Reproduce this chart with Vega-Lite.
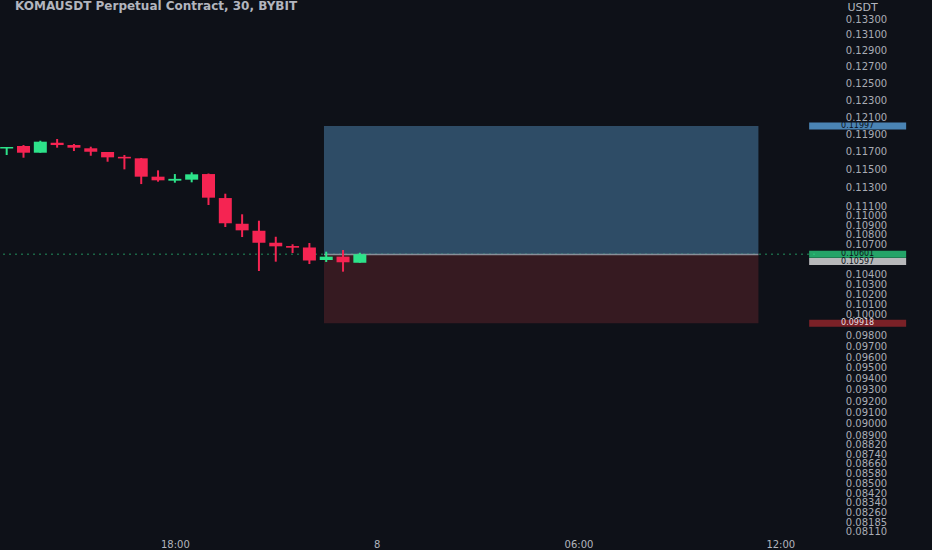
{
  "$schema": "https://vega.github.io/schema/vega-lite/v6.json",
  "width": 815,
  "height": 538,
  "autosize": {"type": "none"},
  "padding": {"left": 0, "top": 0, "right": 117, "bottom": 12},
  "background": "#0e1118",
  "config": {"view": {"stroke": null}, "font": "DejaVu Sans"},
  "title": {"text": "KOMAUSDT Perpetual Contract, 30, BYBIT", "anchor": "start", "frame": "group", "offset": -13, "dx": 15, "fontSize": 12, "fontWeight": "bold", "color": "#b2b5be", "font": "DejaVu Sans"},
  "datasets": {
    "candles": [
      {"t": "2024-12-07T13:00:00Z", "o": 0.11739, "h": 0.11756, "l": 0.11665, "c": 0.11756},
      {"t": "2024-12-07T13:30:00Z", "o": 0.11767, "h": 0.11778, "l": 0.11635, "c": 0.11691},
      {"t": "2024-12-07T14:00:00Z", "o": 0.11691, "h": 0.11827, "l": 0.11691, "c": 0.11816},
      {"t": "2024-12-07T14:30:00Z", "o": 0.11804, "h": 0.11847, "l": 0.11748, "c": 0.11778},
      {"t": "2024-12-07T15:00:00Z", "o": 0.11778, "h": 0.11790, "l": 0.11710, "c": 0.11748},
      {"t": "2024-12-07T15:30:00Z", "o": 0.11741, "h": 0.11759, "l": 0.11657, "c": 0.11702},
      {"t": "2024-12-07T16:00:00Z", "o": 0.11699, "h": 0.11699, "l": 0.11590, "c": 0.11639},
      {"t": "2024-12-07T16:30:00Z", "o": 0.11645, "h": 0.11665, "l": 0.11505, "c": 0.11627},
      {"t": "2024-12-07T17:00:00Z", "o": 0.11628, "h": 0.11632, "l": 0.11343, "c": 0.11424},
      {"t": "2024-12-07T17:30:00Z", "o": 0.11424, "h": 0.11494, "l": 0.11369, "c": 0.11384},
      {"t": "2024-12-07T18:00:00Z", "o": 0.11380, "h": 0.11453, "l": 0.11358, "c": 0.11400},
      {"t": "2024-12-07T18:30:00Z", "o": 0.11391, "h": 0.11472, "l": 0.11362, "c": 0.11450},
      {"t": "2024-12-07T19:00:00Z", "o": 0.11453, "h": 0.11459, "l": 0.11116, "c": 0.11195},
      {"t": "2024-12-07T19:30:00Z", "o": 0.11191, "h": 0.11238, "l": 0.10883, "c": 0.10922},
      {"t": "2024-12-07T20:00:00Z", "o": 0.10917, "h": 0.11017, "l": 0.10778, "c": 0.10848},
      {"t": "2024-12-07T20:30:00Z", "o": 0.10844, "h": 0.10949, "l": 0.10431, "c": 0.10719},
      {"t": "2024-12-07T21:00:00Z", "o": 0.10719, "h": 0.10781, "l": 0.10525, "c": 0.10682},
      {"t": "2024-12-07T21:30:00Z", "o": 0.10685, "h": 0.10703, "l": 0.10613, "c": 0.10668},
      {"t": "2024-12-07T22:00:00Z", "o": 0.10670, "h": 0.10716, "l": 0.10501, "c": 0.10537},
      {"t": "2024-12-07T22:30:00Z", "o": 0.10542, "h": 0.10627, "l": 0.10522, "c": 0.10576},
      {"t": "2024-12-07T23:00:00Z", "o": 0.10576, "h": 0.10644, "l": 0.10424, "c": 0.10519},
      {"t": "2024-12-07T23:30:00Z", "o": 0.10514, "h": 0.10616, "l": 0.10514, "c": 0.10601}
    ],
    "position": [
      {"zone": "target", "lo": 0.10597, "hi": 0.11997},
      {"zone": "stop", "lo": 0.09918, "hi": 0.10597}
    ],
    "levels": [
      {"kind": "target", "price": 0.11997},
      {"kind": "last", "price": 0.10601},
      {"kind": "entry", "price": 0.10597},
      {"kind": "stop", "price": 0.09918}
    ]
  },
  "layer": [
    {
      "data": {"name": "candles"},
      "mark": {"type": "rule", "strokeWidth": 2},
      "encoding": {
        "x": {
          "field": "t", "type": "temporal",
          "scale": {"type": "utc", "domain": [
            {"year": 2024, "month": 12, "date": 7, "hours": 12, "minutes": 57, "utc": true},
            {"year": 2024, "month": 12, "date": 8, "hours": 12, "minutes": 53, "utc": true}
          ]},
          "axis": {
            "title": null, "domain": false, "ticks": false, "grid": false, "zindex": 0,
            "values": [
              {"year": 2024, "month": 12, "date": 7, "hours": 18, "utc": true},
              {"year": 2024, "month": 12, "date": 8, "hours": 0, "utc": true},
              {"year": 2024, "month": 12, "date": 8, "hours": 6, "utc": true},
              {"year": 2024, "month": 12, "date": 8, "hours": 12, "utc": true}
            ],
            "labelExpr": "utchours(datum.value) == 0 ? utcFormat(datum.value, '%-d') : utcFormat(datum.value, '%H:%M')",
            "labelColor": "#b2b5be", "labelFontSize": 10, "labelPadding": 1, "labelFont": "DejaVu Sans", "labelFlush": false
          }
        },
        "y": {
          "field": "l", "type": "quantitative",
          "scale": {"type": "log", "domain": [0.08063, 0.13546], "nice": false, "zero": false},
          "axis": {
            "orient": "right", "zindex": 0, "title": "USDT", "titleAngle": 0, "titleX": 47, "titleY": 7, "titleAlign": "center", "titleBaseline": "middle",
            "titleColor": "#b2b5be", "titleFontSize": 11, "titleFontWeight": "normal", "titleFont": "DejaVu Sans",
            "domain": false, "ticks": false, "tickSize": 0, "grid": false, "format": ".5f",
            "values": [0.133, 0.131, 0.129, 0.127, 0.125, 0.123, 0.121, 0.119, 0.117, 0.115, 0.113, 0.111, 0.110, 0.109, 0.108, 0.107, 0.104, 0.103, 0.102, 0.101, 0.100, 0.098, 0.097, 0.096, 0.095, 0.094, 0.093, 0.092, 0.091, 0.090, 0.089, 0.0882, 0.0874, 0.0866, 0.0858, 0.085, 0.0842, 0.0834, 0.0826, 0.08185, 0.0811],
            "labelAlign": "center", "labelPadding": 51, "labelOverlap": false, "labelFlush": false, "labelBound": false,
            "labelColor": "#a9acb5", "labelFontSize": 10, "labelFont": "DejaVu Sans"
          }
        },
        "y2": {"field": "h"},
        "color": {"value": "#000000"}
      },
      "transform": [{"filter": "false"}]
    },
    {
      "data": {"name": "position"},
      "mark": {"type": "rect"},
      "encoding": {
        "x": {"datum": {"year": 2024, "month": 12, "date": 7, "hours": 22, "minutes": 26, "utc": true}, "type": "temporal"},
        "x2": {"datum": {"year": 2024, "month": 12, "date": 8, "hours": 11, "minutes": 21, "utc": true}},
        "y": {"field": "lo", "type": "quantitative"},
        "y2": {"field": "hi"},
        "color": {"condition": {"test": "datum.zone == 'target'", "value": "#2e4c66"}, "value": "#361a21"}
      }
    },
    {
      "data": {"name": "levels"},
      "transform": [{"filter": "datum.kind == 'last'"}],
      "mark": {"type": "rule", "strokeDash": [2, 4], "strokeWidth": 1.5, "color": "#2de38a", "opacity": 0.4},
      "encoding": {"y": {"field": "price", "type": "quantitative"}}
    },
    {
      "data": {"name": "levels"},
      "transform": [{"filter": "datum.kind == 'entry'"}],
      "mark": {"type": "rule", "strokeWidth": 1.5, "color": "#8a8e99"},
      "encoding": {
        "x": {"datum": {"year": 2024, "month": 12, "date": 7, "hours": 22, "minutes": 26, "utc": true}, "type": "temporal"},
        "x2": {"datum": {"year": 2024, "month": 12, "date": 8, "hours": 11, "minutes": 21, "utc": true}},
        "y": {"field": "price", "type": "quantitative"}
      }
    },
    {
      "data": {"name": "candles"},
      "mark": {"type": "rule", "strokeWidth": 2},
      "encoding": {
        "x": {"field": "t", "type": "temporal"},
        "y": {"field": "l", "type": "quantitative"},
        "y2": {"field": "h"},
        "color": {"condition": {"test": "datum.c >= datum.o", "value": "#2de38a"}, "value": "#f52452"}
      }
    },
    {
      "data": {"name": "candles"},
      "mark": {"type": "bar", "width": 13},
      "encoding": {
        "x": {"field": "t", "type": "temporal"},
        "y": {"field": "o", "type": "quantitative"},
        "y2": {"field": "c"},
        "color": {"condition": {"test": "datum.c >= datum.o", "value": "#2de38a"}, "value": "#f52452"}
      }
    },
    {
      "data": {"name": "levels"},
      "transform": [{"filter": "datum.kind != 'entry'"}],
      "mark": {"type": "tick", "orient": "horizontal", "size": 97, "thickness": 7},
      "encoding": {
        "x": {"datum": {"year": 2024, "month": 12, "date": 8, "hours": 14, "minutes": 18, "utc": true}, "type": "temporal"},
        "y": {"field": "price", "type": "quantitative"},
        "color": {"condition": [
          {"test": "datum.kind == 'target'", "value": "#64b5f6"},
          {"test": "datum.kind == 'last'", "value": "#2de38a"}
        ], "value": "#a8282d"}
      }
    },
    {
      "data": {"name": "levels"},
      "transform": [{"filter": "datum.kind == 'entry'"}],
      "mark": {"type": "tick", "orient": "horizontal", "size": 97, "thickness": 7, "yOffset": 7, "color": "#ffffff"},
      "encoding": {
        "x": {"datum": {"year": 2024, "month": 12, "date": 8, "hours": 14, "minutes": 18, "utc": true}, "type": "temporal"},
        "y": {"field": "price", "type": "quantitative"}
      }
    },
    {
      "data": {"name": "levels"},
      "transform": [{"filter": "datum.kind != 'entry'"}],
      "mark": {"type": "text", "fontSize": 8, "font": "DejaVu Sans", "baseline": "middle", "align": "center"},
      "encoding": {
        "x": {"datum": {"year": 2024, "month": 12, "date": 8, "hours": 14, "minutes": 18, "utc": true}, "type": "temporal"},
        "y": {"field": "price", "type": "quantitative"},
        "text": {"field": "price", "type": "quantitative", "format": ".5f"},
        "color": {"condition": {"test": "datum.kind == 'stop'", "value": "#e9dfe0"}, "value": "#0e1118"}
      }
    },
    {
      "data": {"name": "levels"},
      "transform": [{"filter": "datum.kind == 'entry'"}],
      "mark": {"type": "text", "fontSize": 8, "font": "DejaVu Sans", "baseline": "middle", "align": "center", "yOffset": 7, "color": "#0e1118"},
      "encoding": {
        "x": {"datum": {"year": 2024, "month": 12, "date": 8, "hours": 14, "minutes": 18, "utc": true}, "type": "temporal"},
        "y": {"field": "price", "type": "quantitative"},
        "text": {"field": "price", "type": "quantitative", "format": ".5f"}
      }
    }
  ]
}
